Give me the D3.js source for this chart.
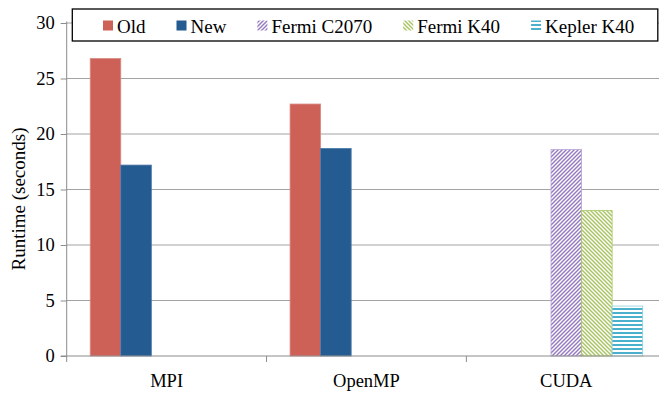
<!DOCTYPE html>
<html>
<head>
<meta charset="utf-8">
<script src="https://cdn.jsdelivr.net/npm/d3@7"></script>
<style>
  html, body { margin: 0; padding: 0; background: #fff; }
</style>
</head>
<body>
<svg id="chart" width="659" height="393"></svg>
<script>
// Runtime per implementation (seconds); null = not measured for that platform
const categories = ["MPI", "OpenMP", "CUDA"];
const seriesNames = ["Old", "New", "Fermi C2070", "Fermi K40", "Kepler K40"];
const oldValues     = [26.8, 22.7, null];
const newValues     = [17.2, 18.7, null];
const fermiC2070    = [null, null, 18.6];
const fermiK40      = [null, null, 13.1];
const keplerK40     = [null, null, 4.5];
const yTicks = [0, 5, 10, 15, 20, 25, 30];
const yLabel = "Runtime (seconds)";

const seriesValues = [oldValues, newValues, fermiC2070, fermiK40, keplerK40];

const FONT = "Liberation Serif, Times New Roman, serif";
const svg = d3.select("#chart");
const W = 659, H = 393;
const plot = { left: 66.7, right: 666.2, top: 23, bottom: 356 };

// Fills: solid for the CPU versions, hatched for the GPU runs
const defs = svg.append("defs");
function hatch(id, color, kind) {
  const p = defs.append("pattern")
    .attr("id", id).attr("patternUnits", "userSpaceOnUse")
    .attr("width", 4).attr("height", 4);
  p.append("rect").attr("width", 4).attr("height", 4).attr("fill", "#fff");
  if (kind === "up") {
    p.append("path").attr("d", "M-1,1 L1,-1 M0,4 L4,0 M3,5 L5,3")
      .attr("stroke", color).attr("stroke-width", 1.5);
  } else if (kind === "down") {
    p.append("path").attr("d", "M-1,3 L1,5 M0,0 L4,4 M3,-1 L5,1")
      .attr("stroke", color).attr("stroke-width", 1.5);
  } else {
    p.append("rect").attr("x", 0).attr("y", 0).attr("width", 4).attr("height", 2)
      .attr("fill", color);
  }
  return `url(#${id})`;
}
const fills = [
  "#CD6158",
  "#245B91",
  hatch("hatch-c2070", "#977BC2", "up"),
  hatch("hatch-k40", "#A9C664", "down"),
  hatch("hatch-kepler", "#4BB0CC", "horiz")
];
const strokes = ["#D98A84", "#4E7AA6", "#B7A2D6", "#A9C664", "#8FCFE0"];

const x0 = d3.scaleBand().domain(categories).range([plot.left, plot.right])
  .paddingInner(0).paddingOuter(0);
const x1 = d3.scaleBand().domain(d3.range(seriesNames.length))
  .range([0, x0.bandwidth()]).paddingInner(0).paddingOuter(0.77);
const y = d3.scaleLinear().domain([0, 30]).range([plot.bottom, plot.top]);

// Horizontal gridlines
svg.append("g").selectAll("line").data(yTicks.filter(t => t > 0)).join("line")
  .attr("x1", plot.left).attr("x2", W)
  .attr("y1", d => y(d)).attr("y2", d => y(d))
  .attr("stroke", "#A3A3A3").attr("stroke-width", 1);

// Bars
const bars = [];
categories.forEach((c, ci) => {
  seriesValues.forEach((vals, si) => {
    if (vals[ci] != null) bars.push({ c, si, v: vals[ci] });
  });
});
svg.append("g").selectAll("rect").data(bars).join("rect")
  .attr("x", d => x0(d.c) + x1(d.si))
  .attr("y", d => y(d.v))
  .attr("width", x1.bandwidth())
  .attr("height", d => y(0) - y(d.v))
  .attr("fill", d => fills[d.si])
  .attr("stroke", d => strokes[d.si])
  .attr("stroke-width", 0.8);

// Y axis
const yAxis = d3.axisLeft(y).tickValues(yTicks).tickSize(6).tickPadding(6);
const gy = svg.append("g").attr("transform", `translate(${plot.left},0)`).call(yAxis);
gy.select(".domain").attr("stroke", "#8C8C8C").attr("d", `M0,${plot.bottom}V${plot.top - 1.5}`);
gy.selectAll(".tick line").attr("stroke", "#8C8C8C");
gy.selectAll("text").attr("font-family", FONT).attr("font-size", 18.5).attr("fill", "#000");

// X axis: tick marks at category boundaries, labels centred in each band
const gx = svg.append("g").attr("transform", `translate(0,${plot.bottom})`);
gx.append("line").attr("x1", plot.left - 6).attr("x2", W)
  .attr("y1", 0).attr("y2", 0).attr("stroke", "#8C8C8C");
gx.selectAll("line.b").data(categories).join("line").attr("class", "b")
  .attr("x1", d => x0(d)).attr("x2", d => x0(d))
  .attr("y1", 0).attr("y2", 6).attr("stroke", "#8C8C8C");
gx.selectAll("text").data(categories).join("text")
  .attr("x", d => x0(d) + x0.bandwidth() / 2)
  .attr("y", 30.5)
  .attr("text-anchor", "middle")
  .attr("font-family", FONT)
  .attr("font-size", 18.5)
  .attr("fill", "#000")
  .text(d => d);

// Y axis title
svg.append("text")
  .attr("transform", `translate(24.5,${(125 + 273) / 2}) rotate(-90)`)
  .attr("text-anchor", "middle")
  .attr("font-family", FONT)
  .attr("font-size", 19)
  .attr("fill", "#000")
  .text(yLabel);

// Legend
const lg = svg.append("g");
lg.append("rect").attr("x", 72.3).attr("y", 9).attr("width", 585.5).attr("height", 32)
  .attr("fill", "#fff").attr("stroke", "#000").attr("stroke-width", 1.3);
let lx = 103;
seriesNames.forEach((name, i) => {
  lg.append("rect").attr("x", lx).attr("y", 20.5).attr("width", 10).attr("height", 10)
    .attr("fill", fills[i]);
  const t = lg.append("text").attr("x", lx + 14).attr("y", 33)
    .attr("font-family", FONT)
    .attr("font-size", 19).attr("fill", "#000").text(name);
  lx += 14 + t.node().getComputedTextLength() + 31;
});
</script>
</body>
</html>
